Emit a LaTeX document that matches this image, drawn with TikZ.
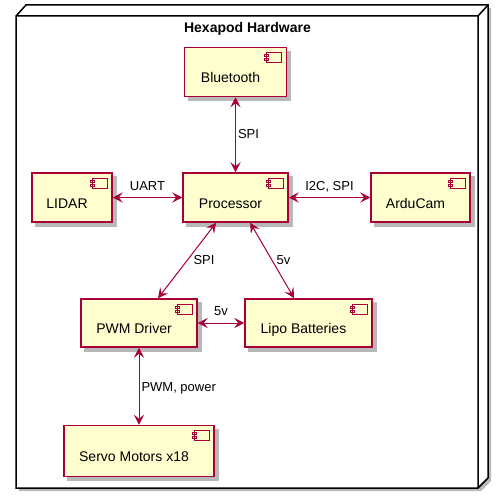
\documentclass[tikz,border=0pt]{standalone}
\usepackage{fontspec}
\setmainfont{Liberation Sans}
\usetikzlibrary{arrows.meta}
\definecolor{umlred}{HTML}{A80036}
\definecolor{umlfill}{HTML}{FEFECE}
\definecolor{umlshade}{HTML}{B8B8B8}
\begin{document}
\begin{tikzpicture}[x=1pt,y=-1pt,
comp/.style={draw=umlred, line width=1.5pt, fill=umlfill,
  preaction={draw=umlshade, fill=umlshade, transform canvas={shift={(4pt,-4pt)}}},
  minimum width=#1, minimum height=49pt, inner sep=0pt,
  font=\fontsize{14}{16}\selectfont, text height=21pt, text depth=0pt,
  execute at end node=\hspace{10pt},
  path picture={
    \draw[umlred, line width=1pt, fill=umlfill]
      ([shift={(-20,5)}]path picture bounding box.north east) rectangle ++(15,10)
      ([shift={(-22,7)}]path picture bounding box.north east) rectangle ++(4,2)
      ([shift={(-22,11)}]path picture bounding box.north east) rectangle ++(4,2);
  }},
link/.style={draw=umlred, line width=1pt,
  {Stealth[length=10pt,width=10pt,inset=4pt]}-{Stealth[length=10pt,width=10pt,inset=4pt]}},
lbl/.style={inner sep=2pt, font=\fontsize{13}{15}\selectfont,
  text height=9.5pt, text depth=2.5pt}]
\useasboundingbox (0,0) rectangle (503,495);
\fill[umlshade] (19,19) -- (29,8) -- (491,8) -- (491,481) -- (481,491) -- (19,491) -- cycle;
\draw[line width=1.5pt, fill=white]
  (16,16) -- (26,5) -- (488,5) -- (488,478) -- (478,488) -- (16,488) -- cycle;
\draw[line width=1.5pt] (16,16) -- (478,16) -- (488,5) (478,16) -- (478,488);
\node[comp=102pt] (blue) at (235.5,72) {Bluetooth};
\node[comp=80pt] (lidar) at (72,197.5) {LIDAR};
\node[comp=105pt] (proc) at (235.5,197.5) {Processor};
\node[comp=99pt] (ardu) at (420.5,197.5) {ArduCam};
\node[comp=116pt, minimum height=48pt] (pwm) at (139,323) {PWM Driver};
\node[comp=127pt, minimum height=48pt] (lipo) at (308.5,323) {Lipo Batteries};
\node[comp=150pt, minimum height=51pt] (servo) at (139,451) {Servo Motors x18};
\node[anchor=base, font=\bfseries\fontsize{14}{16}\selectfont] (title) at (247.5,33) {Hexapod Hardware};
\draw[link] (blue) -- node[lbl, right] {SPI} (proc);
\draw[link] (lidar) -- node[lbl, above=2.5pt] {UART} (proc);
\draw[link] (proc) -- node[lbl, above=2.5pt] {I2C, SPI} (ardu);
\draw[link] (proc) -- node[lbl, right, xshift=4pt] {SPI} (pwm);
\draw[link] (proc) -- node[lbl, right, xshift=2pt] {5v} (lipo);
\draw[link] (pwm) -- node[lbl, above=2.5pt] {5v} (lipo);
\draw[link] (pwm) -- node[lbl, right, yshift=-1.5pt] {PWM, power} (servo);
\end{tikzpicture}
\end{document}
